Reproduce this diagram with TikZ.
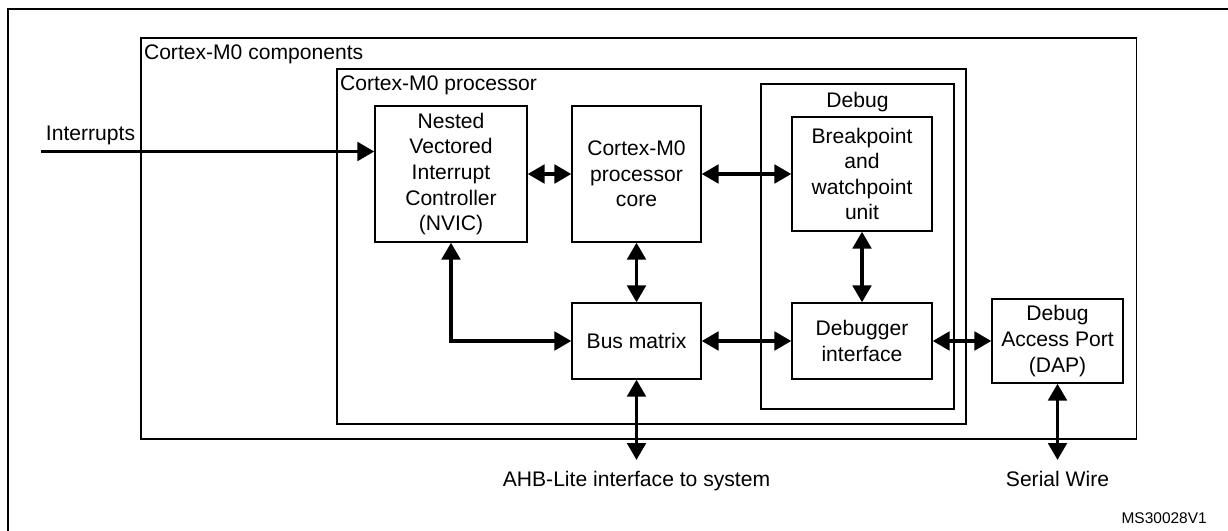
\documentclass[tikz,border=0pt]{standalone}
\usepackage{fontspec}
\setmainfont{Liberation Sans}
\usetikzlibrary{arrows.meta,calc}

\begin{document}
\begin{tikzpicture}[x=0.025cm,y=-0.025cm,font=\fontsize{15}{18.2}\selectfont,
	block/.style={draw, line width=0.9pt, align=center, inner sep=0pt},
	group/.style={draw, line width=0.9pt, inner sep=0pt},
	tag/.style={inner sep=0pt},
	bus/.style={line width=2.8pt, {Triangle[length=12pt,width=13pt]}-{Triangle[length=12pt,width=13pt]}},
	feed/.style={line width=2.8pt, -{Triangle[length=12pt,width=13pt]}}]
\useasboundingbox (0,0) rectangle (1228,531);
\draw[line width=2pt](8,531)--(8,9)--(1228,9);
% nested groups
\node[group, minimum width=24.875cm, minimum height=10.025cm](comp) at (638.5,238.5){};
\node[tag, anchor=north west] at ($(comp.north west)+(3.5,7.5)$){Cortex-M0 components};
\node[group, minimum width=15.725cm, minimum height=8.875cm](proc) at (651.5,246.5){};
\node[tag, anchor=north west] at ($(proc.north west)+(3.5,7.5)$){Cortex-M0 processor};
\node[group, minimum width=4.825cm, minimum height=8.125cm](dbg) at (857.5,246.5){};
\node[tag, anchor=north] at ($(dbg.north)+(0,9)$){Debug};
% blocks
\node[block, minimum width=3.8cm, minimum height=3.4cm](nvic) at (451,174){Nested\\Vectored\\Interrupt\\Controller\\(NVIC)};
\node[block, minimum width=3.225cm, minimum height=3.4cm](core) at (636.5,174){Cortex-M0\\processor\\core};
\node[block, minimum width=3.5cm, minimum height=2.85cm](bpu) at (862,174){Breakpoint\\and\\watchpoint\\unit};
\node[block, minimum width=3.225cm, minimum height=1.9cm](bmx) at (636.5,341){Bus matrix};
\node[block, minimum width=3.5cm, minimum height=1.9cm](dbi) at (862,341){Debugger\\interface};
\node[block, minimum width=3.275cm, minimum height=2.1cm](dap) at (1057.5,341){Debug\\Access Port\\(DAP)};
% outside ends
\coordinate(irq) at (41,151.5);
\coordinate(ahb) at (636.5,460);
\coordinate(swd) at (1057.5,460);
\node[tag, anchor=base] at (90.5,141){Interrupts};
\node[tag, anchor=base] at (636.5,486){AHB-Lite interface to system};
\node[tag, anchor=base] at (1057.5,486){Serial Wire};
\node[tag, anchor=base east, font=\fontsize{11}{13}\selectfont] at (1207,523){MS30028V1};
% links
\draw[feed](irq)to(irq-|nvic.west);
\draw[bus](nvic.east)to(core.west);
\draw[bus](core.east)to(bpu.west);
\draw[bus](core.south)to(bmx.north);
\draw[bus](bpu.south)to(dbi.north);
\draw[bus](nvic.south)|-(bmx.west);
\draw[bus](bmx.east)to(dbi.west);
\draw[bus](dbi.east)to(dap.west);
\draw[bus](bmx.south)to(ahb);
\draw[bus](dap.south)to(swd);
\end{tikzpicture}
\end{document}
